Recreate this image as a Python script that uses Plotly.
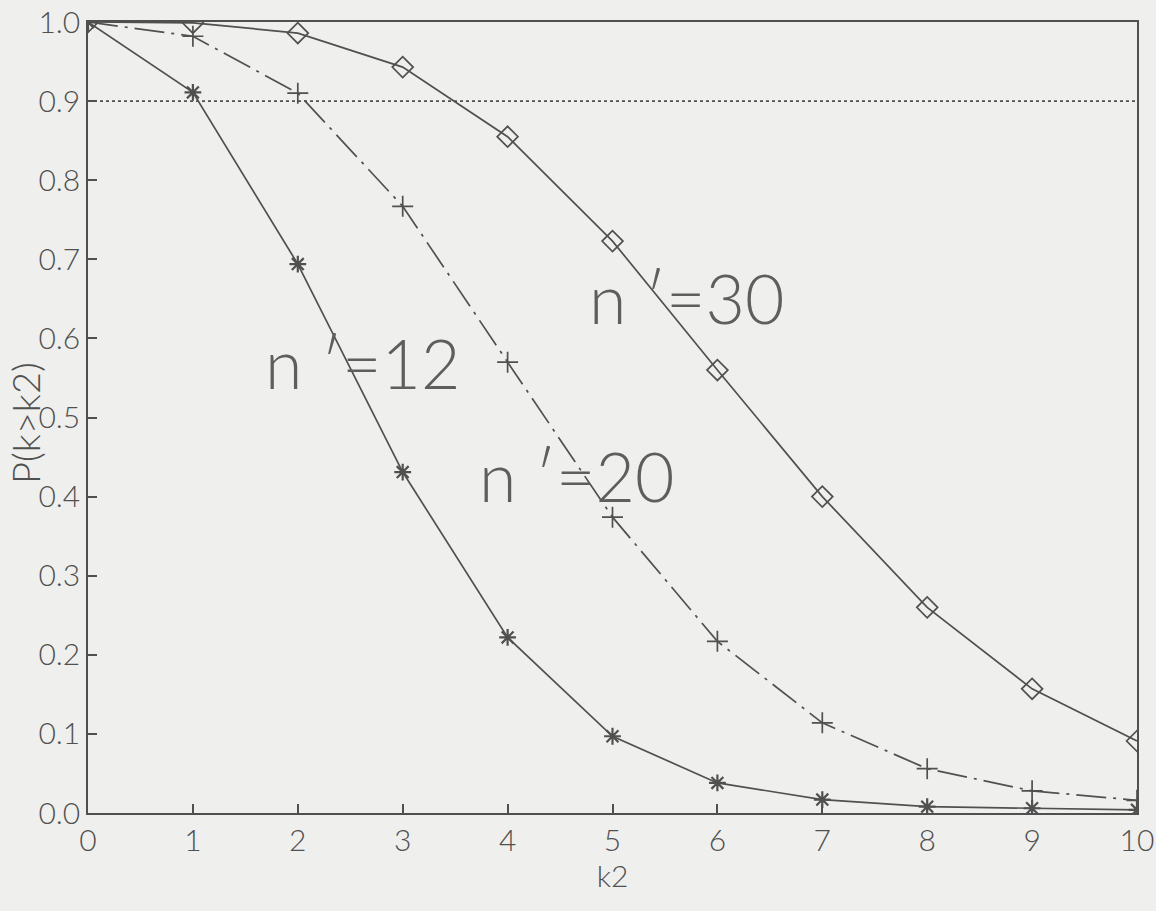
import plotly.graph_objects as go

k2 = [0, 1, 2, 3, 4, 5, 6, 7, 8, 9, 10]
p_n12 = [1.0, 0.911, 0.694, 0.431, 0.222, 0.097, 0.038, 0.017, 0.008, 0.006, 0.004]
p_n20 = [1.0, 0.982, 0.910, 0.767, 0.570, 0.374, 0.217, 0.114, 0.056, 0.028, 0.016]
p_n30 = [1.0, 0.999, 0.986, 0.943, 0.855, 0.723, 0.560, 0.400, 0.260, 0.157, 0.091]
ref_level = 0.9
y_ticks = [0.0, 0.1, 0.2, 0.3, 0.4, 0.5, 0.6, 0.7, 0.8, 0.9, 1.0]

ink = "#505050"
bg = "#efefed"
font_family = "Lato, DejaVu Sans, sans-serif"

fig = go.Figure()
fig.add_trace(go.Scatter(
    x=k2, y=p_n12, mode="lines+markers", name="n'=12",
    line=dict(color=ink, width=1.7, dash="solid"),
    marker=dict(symbol="asterisk-open", size=14, color=ink, line=dict(color=ink, width=2.2)),
))
fig.add_trace(go.Scatter(
    x=k2, y=p_n20, mode="lines+markers", name="n'=20",
    line=dict(color=ink, width=1.7, dash="30px,7px,3px,7px"),
    marker=dict(symbol="cross-thin-open", size=15, color=ink, line=dict(color=ink, width=1.7)),
))
fig.add_trace(go.Scatter(
    x=k2, y=p_n30, mode="lines+markers", name="n'=30",
    line=dict(color=ink, width=1.7, dash="solid"),
    marker=dict(symbol="diamond-open", size=16, color=ink, line=dict(color=ink, width=1.7)),
))

fig.add_shape(type="line", x0=k2[0], x1=k2[-1], y0=ref_level, y1=ref_level,
              xref="x", yref="y", line=dict(color=ink, width=1.7, dash="dot"))

label_font = dict(family=font_family, size=68, color="#5e5e5e", weight=300)
fig.add_annotation(x=2.62, y=0.57, text="n ′=12", showarrow=False, font=label_font, xref="x", yref="y")
fig.add_annotation(x=4.66, y=0.427, text="n ′=20", showarrow=False, font=label_font, xref="x", yref="y")
fig.add_annotation(x=5.71, y=0.652, text="n ′=30", showarrow=False, font=label_font, xref="x", yref="y")

fig.add_annotation(x=0, xshift=-63, y=0.493, xref="paper", yref="y", xanchor="center", yanchor="middle",
                   text="P(k>k2)", textangle=-90, showarrow=False,
                   font=dict(family=font_family, size=38, color=ink, weight=300))

fig.update_layout(
    width=1156, height=911,
    margin=dict(l=88, r=19, t=22, b=98),
    paper_bgcolor=bg, plot_bgcolor=bg,
    showlegend=False,
    font=dict(family=font_family, size=28, color=ink, weight=300),
)
fig.update_xaxes(
    range=[0, 10], tickmode="array", tickvals=k2, ticktext=[str(v) for v in k2],
    ticks="inside", ticklen=9, tickwidth=1.5, tickcolor=ink,
    showline=True, linecolor=ink, linewidth=1.6, mirror=True,
    showgrid=False, zeroline=False, ticklabeloverflow="allow", automargin=False,
    title=dict(text="k2", font=dict(family=font_family, size=30, color=ink, weight=300), standoff=8),
    tickfont=dict(family=font_family, size=30, color=ink, weight=300),
)
fig.update_yaxes(
    range=[0, 1], tickmode="array", tickvals=y_ticks, ticktext=[f"{v:.1f}" for v in y_ticks],
    ticks="inside", ticklen=9, tickwidth=1.5, tickcolor=ink,
    showline=True, linecolor=ink, linewidth=1.6, mirror=True,
    showgrid=False, zeroline=False, ticklabeloverflow="allow", automargin=False,
    tickfont=dict(family=font_family, size=30, color=ink, weight=300),
)

fig.write_html("out.html", config={"displayModeBar": False},
               post_script="document.body.style.margin='0';document.body.style.background='%s';" % bg)
